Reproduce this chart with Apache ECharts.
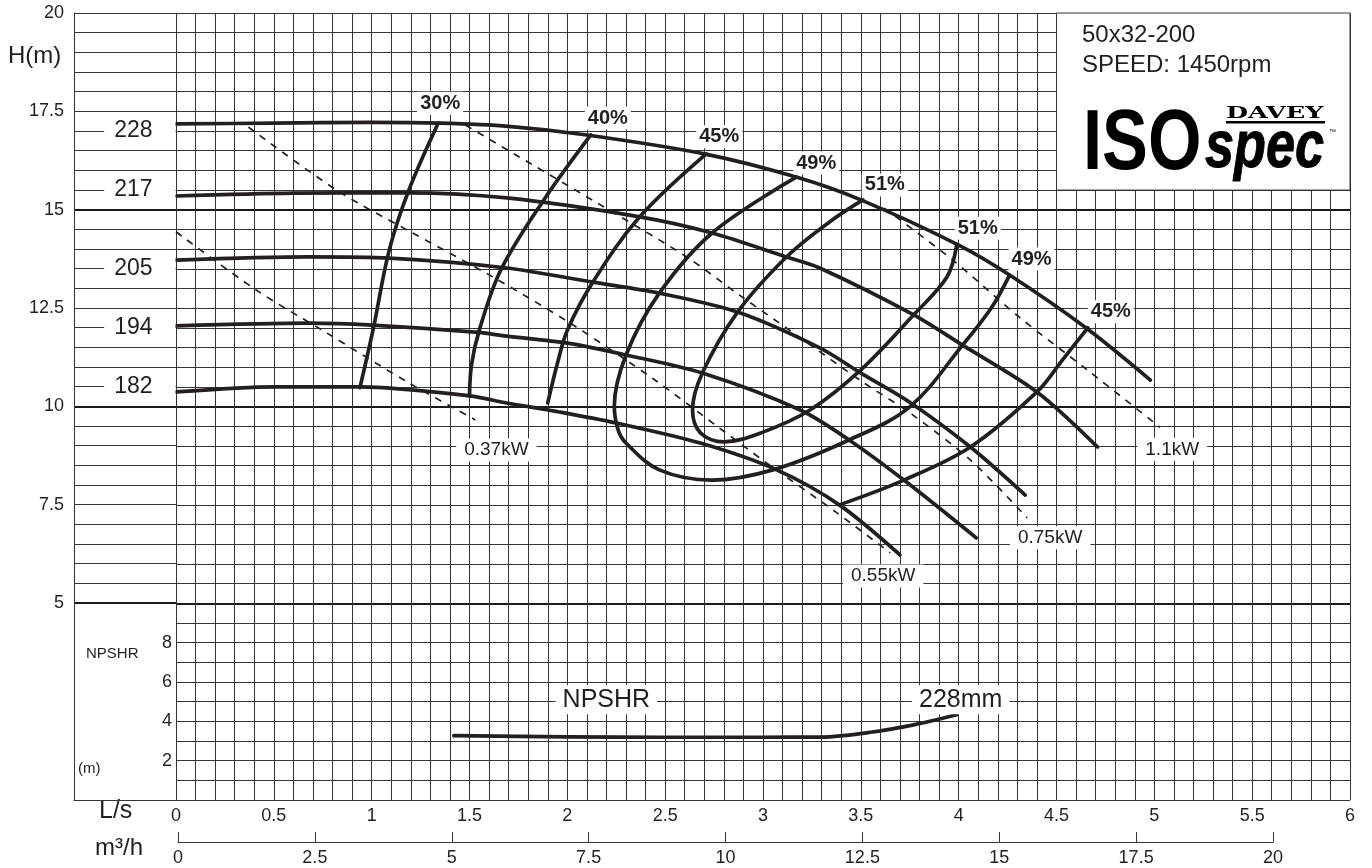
<!DOCTYPE html>
<html>
<head>
<meta charset="utf-8">
<script src="https://cdn.jsdelivr.net/npm/echarts@6/dist/echarts.min.js"></script>
<style>
html,body{margin:0;padding:0;background:#fff;}
#c{width:1372px;height:868px;}
</style>
</head>
<body>
<div id="c"></div>
<script>
// ================= DATA =================
// Flow Q in L/s, head H in m
const d228Q = [0, 0.5, 1.0, 1.35, 1.7, 2.1, 2.7, 3.17, 3.5, 4.0, 4.26, 4.65, 4.98];
const d228H = [17.18, 17.2, 17.22, 17.2, 17.12, 16.9, 16.42, 15.83, 15.25, 14.1, 13.34, 12.0, 10.67];
const d217Q = [0, 0.6, 1.19, 1.69, 2.37, 2.74, 3.12, 3.29, 3.77, 4.02, 4.4, 4.71];
const d217H = [15.35, 15.42, 15.43, 15.3, 14.82, 14.41, 13.8, 13.52, 12.33, 11.56, 10.37, 8.97];
const d205Q = [0, 0.68, 1.09, 1.69, 2.13, 2.47, 2.87, 3.29, 3.5, 3.75, 4.06, 4.34];
const d205H = [13.72, 13.8, 13.77, 13.52, 13.16, 12.88, 12.4, 11.49, 10.85, 10.11, 8.97, 7.75];
const d194Q = [0, 0.68, 1.0, 1.53, 1.69, 2.0, 2.3, 2.69, 3.19, 3.44, 3.72, 4.09];
const d194H = [12.05, 12.12, 12.07, 11.89, 11.79, 11.61, 11.31, 10.85, 9.91, 9.15, 8.13, 6.66];
const d182Q = [0, 0.51, 0.94, 1.5, 1.69, 1.96, 2.25, 2.68, 3.07, 3.39, 3.7];
const d182H = [10.37, 10.5, 10.5, 10.27, 10.09, 9.86, 9.58, 9.07, 8.39, 7.5, 6.23];
const impellerNames = ['228', '217', '205', '194', '182'];

// Efficiency iso-lines
const e30Q = [1.34, 1.19, 1.09, 1.01, 0.94];
const e30H = [17.2, 15.5, 13.98, 12.02, 10.48];
const e40Q = [2.12, 1.88, 1.66, 1.55, 1.51, 1.5];
const e40H = [16.9, 15.25, 13.47, 11.94, 11.05, 10.27];
const e45Q = [2.71, 2.37, 2.13, 2.0, 1.95, 1.9];
const e45H = [16.42, 14.82, 13.16, 11.94, 11.11, 10.09];
const e49Q = [3.17, 2.74, 2.47, 2.3, 2.24, 2.26, 2.3, 2.47, 2.74, 3.05, 3.44, 3.75, 4.02, 4.17, 4.26];
const e49H = [15.83, 14.41, 12.88, 11.31, 10.0, 9.4, 9.07, 8.39, 8.13, 8.39, 9.15, 9.99, 11.56, 12.53, 13.34];
const e51Q = [3.51, 3.34, 3.12, 2.87, 2.69, 2.64, 2.68, 2.8, 2.99, 3.24, 3.5, 3.77, 3.94, 3.99];
const e51H = [15.25, 14.69, 13.8, 12.4, 10.85, 9.91, 9.33, 9.1, 9.33, 9.91, 10.93, 12.33, 13.29, 14.1];
const e45rQ = [4.66, 4.53, 4.4, 4.06, 3.72, 3.39];
const e45rH = [12.0, 11.18, 10.37, 8.97, 8.13, 7.5];

// Power lines (dashed)
const p037Q = [0, 0.41, 0.77, 1.19, 1.53];
const p037H = [14.44, 12.96, 11.87, 10.6, 9.66];
const p055Q = [0.37, 0.82, 1.18, 1.62, 2.03, 2.44, 2.77, 3.02, 3.38, 3.65];
const p055H = [17.1, 15.5, 14.49, 13.29, 12.07, 10.7, 9.48, 8.56, 7.29, 6.28];
const p075Q = [1.48, 1.67, 2.17, 2.61, 2.88, 3.15, 3.51, 3.75, 4.06, 4.35];
const p075H = [17.15, 16.59, 15.12, 13.8, 12.83, 11.89, 10.62, 9.84, 8.64, 7.17];
const p110Q = [3.62, 3.97, 4.31, 4.66, 5.03];
const p110H = [15.04, 13.72, 12.27, 10.92, 9.47];
const powerNames = ['0.37kW', '0.55kW', '0.75kW', '1.1kW'];

// NPSHR (m) for 228 mm impeller
const npQ = [1.42, 2.0, 2.5, 3.0, 3.3, 3.54, 3.77, 3.99];
const npV = [3.27, 3.21, 3.19, 3.19, 3.2, 3.43, 3.82, 4.33];

// Tick label values
const headLabelValues = [5, 7.5, 10, 12.5, 15, 17.5, 20];
const npshrLabelValues = [2, 4, 6, 8];
const flowLabelStep = 0.5;     // L/s labels
const m3hLabelStep = 2.5;      // m3/h labels

// ================= CHART =================
const FONT = "'Liberation Sans', Arial, Helvetica, sans-serif";
const INK = '#231f20';
const GRIDC = '#353535';
const zip = (a, b) => a.map((v, i) => [v, b[i]]);
const isMult = (v, s) => Math.abs(v / s - Math.round(v / s)) < 1e-6;
const fmt = v => String(Math.round(v * 100) / 100);

const heads = [[d228Q, d228H], [d217Q, d217H], [d205Q, d205H], [d194Q, d194H], [d182Q, d182H]];
const effs = [[e30Q, e30H], [e40Q, e40H], [e45Q, e45H], [e49Q, e49H], [e51Q, e51H], [e45rQ, e45rH]];
const powers = [[p037Q, p037H], [p055Q, p055H], [p075Q, p075H], [p110Q, p110H]];

const series = [];
const curveStyle = { color: INK, width: 3.7, cap: 'round', join: 'round' };

heads.forEach((c, i) => {
  const s = {
    type: 'line', xAxisIndex: 0, yAxisIndex: 0, data: zip(c[0], c[1]),
    smooth: 0.3, symbol: 'none', lineStyle: curveStyle, z: 4, silent: true
  };
  if (i === 0) {
    s.markArea = {
      silent: true,
      itemStyle: { color: '#fff', borderColor: GRIDC, borderWidth: 1, opacity: 1 },
      data: [[{ coord: [4.5, 15.5] }, { coord: [6, 20] }]]
    };
  }
  series.push(s);
});
effs.forEach(c => series.push({
  type: 'line', xAxisIndex: 0, yAxisIndex: 0, data: zip(c[0], c[1]),
  smooth: 0.35, symbol: 'none', lineStyle: curveStyle, z: 4, silent: true
}));
powers.forEach(c => series.push({
  type: 'line', xAxisIndex: 0, yAxisIndex: 0, data: zip(c[0], c[1]),
  smooth: 0.3, symbol: 'none', z: 3, silent: true,
  lineStyle: { color: INK, width: 1.7, type: [7, 7] }
}));
series.push({
  type: 'line', xAxisIndex: 0, yAxisIndex: 2, data: zip(npQ, npV),
  smooth: 0.3, symbol: 'none', lineStyle: curveStyle, z: 4, silent: true
});

const labelItem = { color: 'rgba(0,0,0,0)', opacity: 1 };
const baseLabel = {
  show: true, color: INK, opacity: 1, textBorderWidth: 0, textShadowBlur: 0,
  fontFamily: FONT, backgroundColor: '#fff', formatter: p => p.name
};

// Efficiency labels at the curve ends on the 228 curve
const last = a => a.length - 1;
const effLabelDefs = [
  { t: '30%', c: effs[0], end: 0, off: [2, -20] },
  { t: '40%', c: effs[1], end: 0, off: [17, -17] },
  { t: '45%', c: effs[2], end: 0, off: [13, -17] },
  { t: '49%', c: effs[3], end: 0, off: [20, -14] },
  { t: '51%', c: effs[4], end: 0, off: [22, -15] },
  { t: '51%', c: effs[4], end: 1, off: [21, -17] },
  { t: '49%', c: effs[3], end: 1, off: [22, -16] },
  { t: '45%', c: effs[5], end: 0, off: [23, -16] }
];
series.push({
  type: 'scatter', xAxisIndex: 0, yAxisIndex: 0, symbolSize: 1, silent: true, z: 6,
  itemStyle: labelItem,
  data: effLabelDefs.map(d => {
    const k = d.end ? last(d.c[0]) : 0;
    return { value: [d.c[0][k], d.c[1][k]], name: d.t, label: { offset: d.off } };
  }),
  label: Object.assign({}, baseLabel, {
    position: 'inside', fontSize: 20, fontWeight: 'bold', padding: [2, 3, 1, 3]
  })
});

// Power labels at dashed-line ends
const powerOffsets = [[21, 30], [-7, 23], [23, 20], [12, 22]];
series.push({
  type: 'scatter', xAxisIndex: 0, yAxisIndex: 0, symbolSize: 1, silent: true, z: 6,
  itemStyle: labelItem,
  data: powers.map((c, i) => ({
    value: [c[0][last(c[0])], c[1][last(c[1])]], name: powerNames[i],
    label: { offset: powerOffsets[i] }
  })),
  label: Object.assign({}, baseLabel, { position: 'inside', fontSize: 19, padding: [2, 8, 2, 8] })
});

// NPSHR annotations
series.push({
  type: 'scatter', xAxisIndex: 0, yAxisIndex: 2, symbolSize: 1, silent: true, z: 6,
  itemStyle: labelItem,
  data: [
    { value: [npQ[1], npV[1]], name: 'NPSHR', label: { offset: [39, -37] } },
    { value: [npQ[last(npQ)], npV[last(npV)]], name: '228mm', label: { offset: [4, -15] } }
  ],
  label: Object.assign({}, baseLabel, { position: 'inside', fontSize: 25, padding: [2, 7, 2, 7] })
});

// Impeller diameter labels in the left panel
series.push({
  type: 'scatter', xAxisIndex: 1, yAxisIndex: 3, symbolSize: 1, silent: true, z: 6,
  itemStyle: labelItem,
  data: heads.map((c, i) => ({ value: [1, Math.round(c[1][0] * 2) / 2], name: impellerNames[i] })),
  label: Object.assign({}, baseLabel, {
    position: 'left', distance: 0, fontSize: 23, padding: [3, 23, 3, 10]
  })
});

const hidden = { show: false };
const option = {
  animation: false,
  backgroundColor: '#fff',
  grid: [
    { left: 176, right: 22, top: 13, bottom: 68 },          // main plot
    { left: 74, width: 102, top: 13, height: 590 },         // left panel (H 5..20)
    { left: 74, width: 102, top: 603, height: 197 },        // left panel (NPSHR)
    { left: 178, width: 1095, top: 832, height: 10 }        // m3/h scale
  ],
  xAxis: [
    {
      gridIndex: 0, type: 'value', min: 0, max: 6, interval: 0.1,
      axisLine: hidden, axisTick: hidden,
      splitLine: { show: true, lineStyle: { color: GRIDC, width: 1 } },
      axisLabel: {
        margin: 7, fontFamily: FONT, fontSize: 18, color: INK,
        formatter: v => isMult(v, flowLabelStep) ? fmt(v) : ''
      }
    },
    { gridIndex: 1, type: 'value', min: 0, max: 1, show: false },
    {
      gridIndex: 2, type: 'value', min: 0, max: 1,
      axisLine: { show: true, lineStyle: { color: GRIDC, width: 1 } },
      axisTick: hidden, axisLabel: hidden, splitLine: hidden
    },
    {
      gridIndex: 3, type: 'value', min: 0, max: 20, interval: m3hLabelStep, position: 'bottom',
      axisLine: { show: true, lineStyle: { color: GRIDC, width: 1 } },
      axisTick: { show: true, inside: true, length: 10, lineStyle: { color: GRIDC, width: 1 } },
      splitLine: hidden,
      axisLabel: { margin: 7, fontFamily: FONT, fontSize: 18, color: INK, formatter: v => fmt(v) }
    }
  ],
  yAxis: [
    {
      gridIndex: 0, type: 'value', min: 0, max: 20, interval: 0.5,
      axisLine: hidden, axisTick: hidden, axisLabel: hidden,
      splitLine: { show: true, lineStyle: { color: GRIDC, width: 1 } }
    },
    {
      gridIndex: 0, type: 'value', min: 0, max: 20, interval: 5,
      axisLine: hidden, axisTick: hidden, axisLabel: hidden,
      splitLine: { show: true, showMinLine: false, showMaxLine: false, lineStyle: { color: '#1a1a1a', width: 2 } }
    },
    {
      gridIndex: 0, type: 'value', min: 0, max: 40, interval: 2, position: 'left',
      axisLine: hidden, axisTick: hidden, splitLine: hidden,
      axisLabel: {
        margin: 4, fontFamily: FONT, fontSize: 18, color: INK,
        formatter: v => npshrLabelValues.includes(Math.round(v * 100) / 100) ? fmt(v) : ''
      }
    },
    {
      gridIndex: 1, type: 'value', min: 5, max: 20, interval: 0.5,
      axisLine: { show: true, lineStyle: { color: GRIDC, width: 1 } },
      axisTick: hidden,
      splitLine: { show: true, lineStyle: { color: GRIDC, width: 1 } },
      axisLabel: {
        margin: 10, fontFamily: FONT, fontSize: 18, color: INK,
        formatter: v => headLabelValues.includes(Math.round(v * 100) / 100) ? fmt(v) : ''
      }
    },
    {
      gridIndex: 1, type: 'value', min: 5, max: 20, interval: 5,
      axisLine: hidden, axisTick: hidden, axisLabel: hidden,
      splitLine: { show: true, showMaxLine: false, lineStyle: { color: '#1a1a1a', width: 2 } }
    },
    {
      gridIndex: 2, type: 'value', min: 0, max: 1,
      axisLine: { show: true, lineStyle: { color: GRIDC, width: 1 } },
      axisTick: hidden, axisLabel: hidden, splitLine: hidden
    },
    { gridIndex: 3, type: 'value', min: 0, max: 1, show: false }
  ],
  series: series,
  graphic: [
    { type: 'text', left: 8, top: 44, style: { text: 'H(m)', font: '24px ' + FONT, fill: INK } },
    { type: 'text', left: 86, top: 646, style: { text: 'NPSHR', font: '15px ' + FONT, fill: INK } },
    { type: 'text', left: 78, top: 761, style: { text: '(m)', font: '15px ' + FONT, fill: INK } },
    { type: 'text', left: 99, top: 799, style: { text: 'L/s', font: '25px ' + FONT, fill: INK } },
    { type: 'text', left: 95, top: 836, style: { text: 'm³/h', font: '24px ' + FONT, fill: INK } },
    { type: 'text', left: 1082, top: 23, z: 10, style: { text: '50x32-200', font: '24px ' + FONT, fill: INK } },
    { type: 'text', left: 1082, top: 53, z: 10, style: { text: 'SPEED: 1450rpm', font: '24px ' + FONT, fill: INK } },
    { type: 'text', x: 1083, y: 102, scaleX: 0.8, z: 10, style: { text: 'ISO', font: 'bold 86px ' + FONT, fill: '#000' } },
    { type: 'text', x: 1205, y: 115, scaleX: 0.78, z: 10, style: { text: 'spec', font: 'italic bold 67px ' + FONT, fill: '#000', stroke: '#000', lineWidth: 1 } },
    { type: 'text', x: 1226, y: 105, scaleX: 1.5, z: 10, style: { text: 'DAVEY', font: 'bold 17px "DejaVu Serif", serif', fill: '#000' } },
    { type: 'rect', z: 10, shape: { x: 1226, y: 121, width: 99, height: 2.5 }, style: { fill: '#000' } },
    { type: 'text', left: 1329, top: 129, z: 10, style: { text: '™', font: '7px ' + FONT, fill: '#000' } }
  ]
};

const chart = echarts.init(document.getElementById('c'), null, { renderer: 'canvas' });
chart.setOption(option);
</script>
</body>
</html>
